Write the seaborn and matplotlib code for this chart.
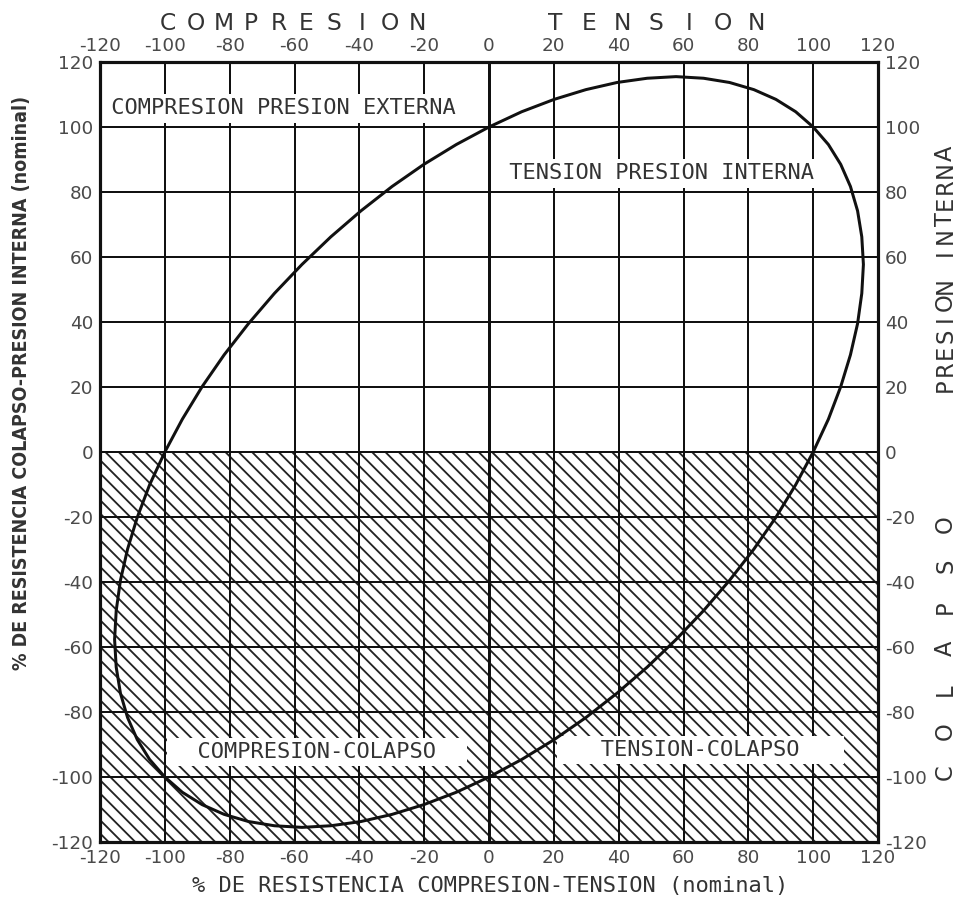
import matplotlib
matplotlib.use("Agg")
import matplotlib.pyplot as plt
import matplotlib.transforms as mtransforms
import seaborn as sns
import pandas as pd

# ---------------- data ----------------
tick_values = [-120, -100, -80, -60, -40, -20, 0, 20, 40, 60, 80, 100, 120]
tick_labels = ["-120", "-100", "-80", "-60", "-40", "-20", "0", "20", "40", "60", "80", "100", "120"]

# biaxial (von Mises) ellipse, points read around the curve
ell_x = [100.0, 94.6, 88.5, 81.7, 74.2, 66.2, 57.7, 48.8, 39.5, 29.9, 20.1, 10.1,
         0.0, -10.1, -20.1, -29.9, -39.5, -48.8, -57.7, -66.2, -74.2, -81.7, -88.5, -94.6,
         -100.0, -104.7, -108.5, -111.5, -113.7, -115.0, -115.5, -115.0, -113.7, -111.5, -108.5, -104.7,
         -100.0, -94.6, -88.5, -81.7, -74.2, -66.2, -57.7, -48.8, -39.5, -29.9, -20.1, -10.1,
         0.0, 10.1, 20.1, 29.9, 39.5, 48.8, 57.7, 66.2, 74.2, 81.7, 88.5, 94.6,
         100.0, 104.7, 108.5, 111.5, 113.7, 115.0, 115.5, 115.0, 113.7, 111.5, 108.5, 104.7,
         100.0]
ell_y = [100.0, 104.7, 108.5, 111.5, 113.7, 115.0, 115.5, 115.0, 113.7, 111.5, 108.5, 104.7,
         100.0, 94.6, 88.5, 81.7, 74.2, 66.2, 57.7, 48.8, 39.5, 29.9, 20.1, 10.1,
         0.0, -10.1, -20.1, -29.9, -39.5, -48.8, -57.7, -66.2, -74.2, -81.7, -88.5, -94.6,
         -100.0, -104.7, -108.5, -111.5, -113.7, -115.0, -115.5, -115.0, -113.7, -111.5, -108.5, -104.7,
         -100.0, -94.6, -88.5, -81.7, -74.2, -66.2, -57.7, -48.8, -39.5, -29.9, -20.1, -10.1,
         0.0, 10.1, 20.1, 29.9, 39.5, 48.8, 57.7, 66.2, 74.2, 81.7, 88.5, 94.6,
         100.0]

collapse_zone = (-120, 0)

region_labels = ["COMPRESION PRESION EXTERNA", "TENSION PRESION INTERNA",
                 "COMPRESION-COLAPSO", "TENSION-COLAPSO"]

x_title = "% DE RESISTENCIA COMPRESION-TENSION (nominal)"
y_title = "% DE RESISTENCIA COLAPSO-PRESION INTERNA (nominal)"
top_left_title = "COMPRESION"
top_right_title = "TENSION"
right_top_title = "PRESION INTERNA"
right_bottom_title = "COLAPSO"

# ---------------- style ----------------
sns.set_theme(style="white")
plt.rcParams["font.family"] = ["DejaVu Sans"]
plt.rcParams["hatch.linewidth"] = 1.1
plt.rcParams["hatch.color"] = "#222222"

TXT = "#333333"
TICK = "#4a4a4a"
MONO = "DejaVu Sans Mono"

fig = plt.figure(figsize=(8.0, 7.5), dpi=120)
ax = fig.add_axes([100 / 960, 58 / 900, 778 / 960, 780 / 900])
ax.set_xlim(-120, 120)
ax.set_ylim(-120, 120)

# hatched collapse zone
ax.axhspan(collapse_zone[0], collapse_zone[1], facecolor="none", edgecolor="#222222",
           hatch="\\\\\\", linewidth=0, zorder=1)

# grid
ax.set_axisbelow(False)
ax.grid(True, color="#111111", linewidth=1.2)
ax.axvline(0, color="#111111", linewidth=1.8, zorder=2.6)

# ellipse
df = pd.DataFrame({"x": ell_x, "y": ell_y})
sns.lineplot(data=df, x="x", y="y", sort=False, estimator=None, color="#111111",
             linewidth=1.8, ax=ax, zorder=4)
for ln in ax.lines:
    ln.set_solid_joinstyle("round")
ax.set_xlabel("")
ax.set_ylabel("")

# ticks
ax.set_xticks(tick_values)
ax.set_xticklabels(tick_labels)
ax.set_yticks(tick_values)
ax.set_yticklabels(tick_labels)
ax.tick_params(axis="both", which="both", length=0, labelsize=11, labelcolor=TICK, pad=4,
               top=True, labeltop=True, right=True, labelright=True,
               bottom=True, labelbottom=True, left=True, labelleft=True)

for s in ax.spines.values():
    s.set_visible(True)
    s.set_color("#111111")
    s.set_linewidth(1.9)
    s.set_zorder(6)

# region labels with white boxes
box = dict(boxstyle="square,pad=0.2", facecolor="white", edgecolor="none")
region_pos = [(-63.5, 105.8, 1), (53.2, 85.8, 1), (-53.0, -92.3, 2), (65.1, -91.7, 3)]
for lab, (x, y, nsp) in zip(region_labels, region_pos):
    pad = " " * nsp
    ax.text(x, y, pad + lab + pad, family=MONO, fontsize=13.2, color=TXT,
            ha="center", va="center", bbox=box, zorder=3)

# spaced letters helper
def spaced(text, start, step, fixed, vertical=False, size=14):
    k = 0
    for ch in text:
        if ch != " ":
            if vertical:
                tr = mtransforms.blended_transform_factory(ax.transAxes, ax.transData)
                ax.text(fixed, start + k * step, ch, transform=tr, rotation=90, ha="center",
                        va="center", fontsize=size, color=TXT, clip_on=False)
            else:
                tr = mtransforms.blended_transform_factory(ax.transData, ax.transAxes)
                ax.text(start + k * step, fixed, ch, transform=tr, ha="center",
                        va="center", fontsize=size, color=TXT, clip_on=False)
        k += 1

spaced(top_left_title, -99.0, 8.54, 1.05)
spaced(top_right_title, 20.4, 10.37, 1.05)
spaced(right_top_title, 20.6, 5.1, 1.087, vertical=True, size=13.5)
spaced(right_bottom_title, -98.5, 12.7, 1.087, vertical=True, size=13.5)

# axis titles
fig.text(490 / 960, 1 - 886 / 900, x_title, family=MONO, fontsize=13.2, color=TXT,
         ha="center", va="center")
fig.text(22 / 960, 1 - 383 / 900, y_title, fontsize=11.7, fontweight="bold",
         fontstretch="condensed", color=TXT, rotation=90, ha="center", va="center")

fig.savefig("out.png", dpi=120)
